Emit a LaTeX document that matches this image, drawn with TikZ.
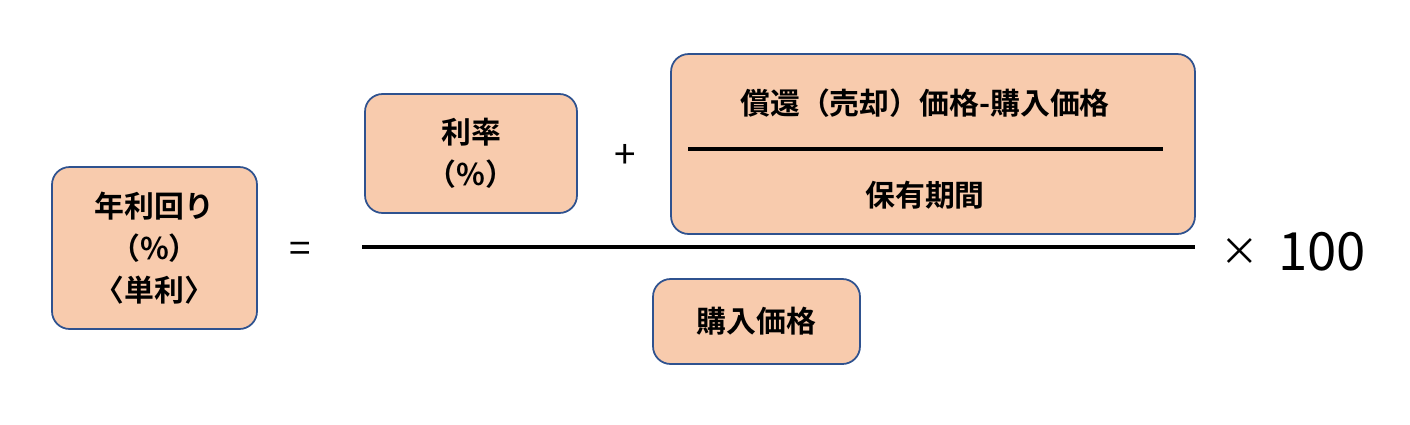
\documentclass[tikz,border=0pt]{standalone}
\usepackage{fontspec}
\setmainfont{Noto Sans CJK JP}[BoldFont={* Bold}]
\definecolor{peach}{HTML}{F8CBAD}
\definecolor{edge}{HTML}{2F528F}
\begin{document}
\begin{tikzpicture}[x=0.02cm, y=-0.02cm,
    termbox/.style={rectangle, draw=edge, fill=peach, line width=1pt, rounded corners=10pt},
    termtext/.style={font=\bfseries\fontsize{17}{24}\selectfont, align=center},
    optext/.style={font=\fontsize{22}{24}\selectfont}
]
    \useasboundingbox (0,0) rectangle (1410,424);

    % Left hand side
    \node[termbox, minimum width=4.1cm, minimum height=3.24cm] (yield) at (154.5,248) {};
    \node[termtext] (yieldtxt) at (yield) {年利回り\\（\%）\\〈単利〉};
    \node[optext] (eq) at (300,252) {=};

    % Numerator
    \node[termbox, minimum width=4.24cm, minimum height=2.38cm] (rate) at (471,153.5) {};
    \node[termtext] (ratetxt) at (rate) {利率\\（\%）};
    \node[optext] (plus) at (625,156) {+};
    \node[termbox, minimum width=10.48cm, minimum height=3.6cm] (gain) at (933,144) {};
    \node[termtext] (gaintop) at (925,103) {償還（売却）価格-購入価格};
    \node[termtext] (gainbot) at (925,195) {保有期間};
    \coordinate (gl) at (688,149);
    \coordinate (gr) at (1163,149);
    \draw[line width=2.5pt] (gl) -- (gr);

    % Main fraction line
    \coordinate (fl) at (362,247);
    \coordinate (fr) at (1195,247);
    \draw[line width=2.5pt] (fl) -- (fr);

    % Denominator
    \node[termbox, minimum width=4.14cm, minimum height=1.7cm] (price) at (756.5,321.5) {};
    \node[termtext] (pricetxt) at (price) {購入価格};

    % Factor
    \node[optext] (times) at (1240,252) {×};
    \node[font=\fontsize{30}{30}\selectfont] (hundred) at (1322,252) {100};
\end{tikzpicture}
\end{document}
